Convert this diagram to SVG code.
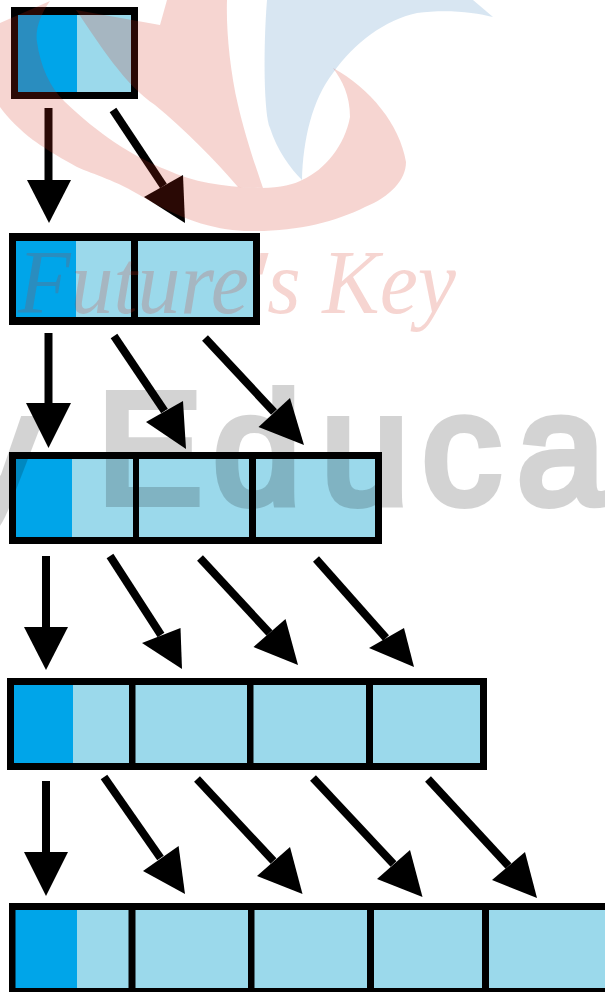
<svg xmlns="http://www.w3.org/2000/svg" width="605" height="992" viewBox="0 0 605 992">
<style>
.frame{fill:#000}
.dark{fill:#00a5e9}
.light{fill:#9bd9eb}
.shaft{stroke:#000;stroke-width:8;fill:none}
.head{fill:#000}
.wm-red{fill:rgb(210,45,25);fill-opacity:.2}
.wm-blue{fill:rgb(60,130,190);fill-opacity:.2}
.wm-key{font-family:"Liberation Serif",serif;font-style:italic;font-size:92px;fill:rgb(210,45,25);fill-opacity:.2}
.wm-edu{font-family:"Liberation Sans",Arial,sans-serif;font-size:158px;fill:#000;stroke:#000;stroke-width:8;opacity:.17}
</style>
<rect width="605" height="992" fill="#fff"/>
<g id="row-1">
<rect class="frame" x="11" y="7" width="127" height="92"/>
<rect class="dark" x="18" y="15" width="59" height="77"/>
<rect class="light" x="77" y="15" width="54" height="77"/>
</g>
<g id="row-2">
<rect class="frame" x="9" y="233" width="251" height="92"/>
<rect class="dark" x="16" y="241" width="60" height="76"/>
<rect class="light" x="76" y="241" width="55" height="76"/>
<rect class="light" x="138" y="241" width="115" height="76"/>
</g>
<g id="row-3">
<rect class="frame" x="9" y="452" width="373" height="92"/>
<rect class="dark" x="16" y="459" width="56" height="78"/>
<rect class="light" x="72" y="459" width="61" height="78"/>
<rect class="light" x="139" y="459" width="110" height="78"/>
<rect class="light" x="256" y="459" width="119" height="78"/>
</g>
<g id="row-4">
<rect class="frame" x="7" y="678" width="480" height="92"/>
<rect class="dark" x="14" y="685" width="59" height="78"/>
<rect class="light" x="73" y="685" width="56" height="78"/>
<rect class="light" x="135.500" y="685" width="111.500" height="78"/>
<rect class="light" x="253.500" y="685" width="112.500" height="78"/>
<rect class="light" x="373" y="685" width="107" height="78"/>
</g>
<g id="row-5">
<rect class="frame" x="9" y="903" width="600" height="92"/>
<rect class="dark" x="15.500" y="910" width="61.500" height="78"/>
<rect class="light" x="77" y="910" width="51.500" height="78"/>
<rect class="light" x="135.500" y="910" width="112.500" height="78"/>
<rect class="light" x="254.500" y="910" width="112.500" height="78"/>
<rect class="light" x="374" y="910" width="108" height="78"/>
<rect class="light" x="489" y="910" width="120" height="78"/>
</g>
<g id="connectors">
<line class="shaft" x1="48.500" y1="108" x2="48.500" y2="185"/><polygon class="head" points="27,180 71,180 49,223"/>
<line class="shaft" x1="113" y1="110" x2="163.500" y2="186"/><polygon class="head" points="183,175 144,197 185,223"/>
<line class="shaft" x1="48.500" y1="333" x2="48.500" y2="408"/><polygon class="head" points="26,403 71,403 48.500,448"/>
<line class="shaft" x1="114" y1="336" x2="164.500" y2="411"/><polygon class="head" points="183,401 146,422 186,449"/>
<line class="shaft" x1="205" y1="338" x2="274" y2="412"/><polygon class="head" points="290,398 258.500,427 304,445"/>
<line class="shaft" x1="46" y1="556" x2="46" y2="632"/><polygon class="head" points="24,627 68,627 46,670"/>
<line class="shaft" x1="110" y1="556" x2="161" y2="635"/><polygon class="head" points="180.500,628 142,643 182,669"/>
<line class="shaft" x1="200" y1="558" x2="269.500" y2="633"/><polygon class="head" points="285.500,619 253.500,647 298,665"/>
<line class="shaft" x1="316" y1="559" x2="386" y2="638"/><polygon class="head" points="404,628 369,648 414,667"/>
<line class="shaft" x1="46" y1="781" x2="46" y2="857"/><polygon class="head" points="24,852 68,852 46,896"/>
<line class="shaft" x1="104" y1="777" x2="160.500" y2="858"/><polygon class="head" points="178.600,846 143,871 185,894"/>
<line class="shaft" x1="197" y1="779" x2="273.500" y2="861"/><polygon class="head" points="290,847 257,876 302.500,894"/>
<line class="shaft" x1="313" y1="778" x2="393.500" y2="864"/><polygon class="head" points="410,850 377,879 422.500,897"/>
<line class="shaft" x1="428" y1="779" x2="508.500" y2="866"/><polygon class="head" points="525,852 492,880 537,898"/>
</g>
<g id="watermark">
<path class="wm-blue" d="M267,0C263,50 264,115 270,128C277,150 290,168 302,180C303,140 312,100 333,73C355,42 385,20 417,13C445,9 475,12 493,17L473,0Z"/>
<path class="wm-red" d="M0,23L50,1C40,15 35,30 37,42C40,65 50,88 65,102C100,135 130,155 167,170C195,183 225,187 262,188C280,188 295,184 302,180C325,170 345,145 350,117C350,95 342,80 333,68C370,88 400,125 406,162C406,180 390,197 365,207C335,222 295,232 250,231C220,231 185,222 143,197C115,180 95,175 77,167C55,155 40,145 33,140C20,130 8,118 0,107Z"/>
<path class="wm-red" d="M76,10L160,25L167,0H227C226,30 230,70 238,105C245,135 255,165 263,188L238,187C215,160 185,130 155,105C125,85 100,45 76,10Z"/>
<text class="wm-key" x="18" y="313" textLength="438" lengthAdjust="spacingAndGlyphs">Future's Key</text>
<text class="wm-edu" x="-40 40 97 213 321 422 517" y="503">y Educa</text>
</g>
</svg>
